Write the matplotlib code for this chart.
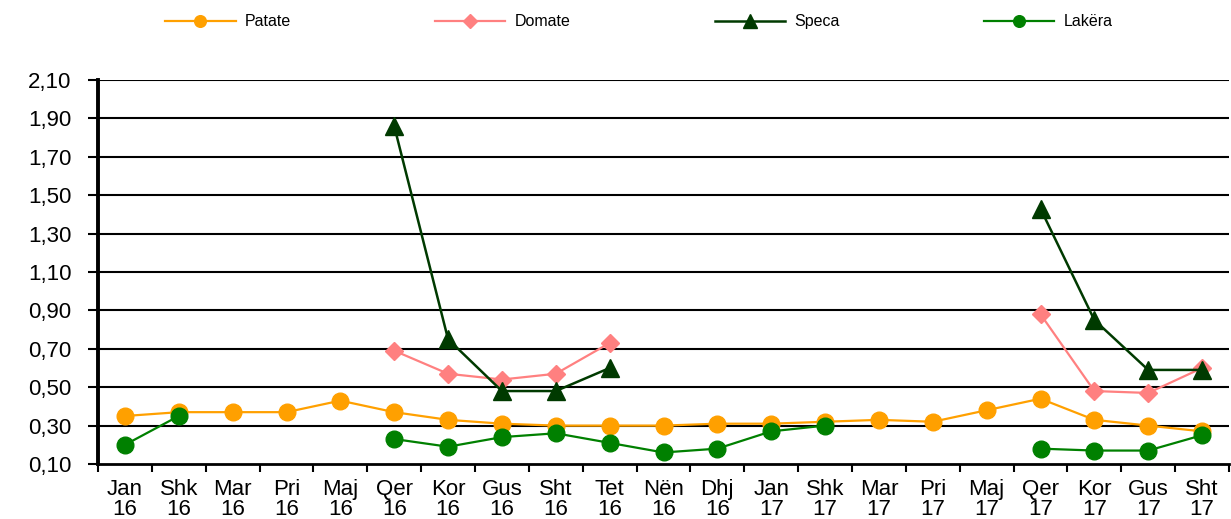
import matplotlib.pyplot as plt
import numpy as np

plt.rcParams['font.family'] = ['Liberation Sans', 'DejaVu Sans']

months = ['Jan\n16', 'Shk\n16', 'Mar\n16', 'Pri\n16', 'Maj\n16', 'Qer\n16', 'Kor\n16',
          'Gus\n16', 'Sht\n16', 'Tet\n16', 'Nën\n16', 'Dhj\n16', 'Jan\n17', 'Shk\n17',
          'Mar\n17', 'Pri\n17', 'Maj\n17', 'Qer\n17', 'Kor\n17', 'Gus\n17', 'Sht\n17']

nan = np.nan
patate = [0.35, 0.37, 0.37, 0.37, 0.43, 0.37, 0.33, 0.31, 0.30, 0.30, 0.30,
          0.31, 0.31, 0.32, 0.33, 0.32, 0.38, 0.44, 0.33, 0.30, 0.27]
domate = [nan, nan, nan, nan, nan, 0.69, 0.57, 0.54, 0.57, 0.73, nan,
          nan, nan, nan, nan, nan, nan, 0.88, 0.48, 0.47, 0.60]
speca = [nan, nan, nan, nan, nan, 1.86, 0.75, 0.48, 0.48, 0.60, nan,
         nan, nan, nan, nan, nan, nan, 1.43, 0.85, 0.59, 0.59]
lakera = [0.20, 0.35, nan, nan, nan, 0.23, 0.19, 0.24, 0.26, 0.21, 0.16,
          0.18, 0.27, 0.30, nan, nan, nan, 0.18, 0.17, 0.17, 0.25]

yticks = [0.10, 0.30, 0.50, 0.70, 0.90, 1.10, 1.30, 1.50, 1.70, 1.90, 2.10]

fig = plt.figure(figsize=(12.31, 5.19), dpi=100)
ax = fig.add_axes([98 / 1231, 1 - 464 / 519, 1131 / 1231, 384 / 519])

x = np.arange(len(months))

# draw the series (missing months stay as gaps)
ax.plot(x, patate, color='#FFA000', lw=1.6, marker='o', ms=12, mec='#FFA000', label='Patate', zorder=3)
ax.plot(x, domate, color='#FF8080', lw=1.6, marker='D', ms=9.5, mec='#FF8080', label='Domate', zorder=4)
ax.plot(x, speca, color='#003A00', lw=1.8, marker='^', ms=13.5, mec='#003A00', label='Speca', zorder=5)
ax.plot(x, lakera, color='#008000', lw=1.6, marker='o', ms=12, mec='#008000', label='Lakëra', zorder=3)

# horizontal gridlines
for yv in yticks[1:]:
    ax.axhline(yv, color='black', lw=1.5, zorder=1)

ax.set_xlim(-0.5, len(months) - 0.5)
ax.set_ylim(0.10, 2.10)
ax.set_yticks(yticks)
ax.set_yticklabels([f'{v:.2f}'.replace('.', ',') for v in yticks], fontsize=16)

# labels at the centres, tick marks between months
ax.set_xticks(x)
ax.set_xticklabels(months, fontsize=16, linespacing=0.95)
ax.set_xticks(np.arange(-0.5, len(months)), minor=True)
ax.tick_params(axis='x', which='major', length=0, pad=11)
ax.tick_params(axis='x', which='minor', length=6, width=1.5, direction='out')
ax.tick_params(axis='y', length=7, width=1.5, direction='out', pad=12)

for side in ['top', 'right']:
    ax.spines[side].set_visible(False)
ax.spines['left'].set_linewidth(2.8)
ax.spines['bottom'].set_linewidth(2.0)

fig.legend(loc='center', bbox_to_anchor=(0.519, 0.958), ncol=4, frameon=False,
           fontsize=11.5, handlelength=4.4, columnspacing=9.0, handletextpad=0.6,
           markerscale=0.7)

plt.savefig('out.png', dpi=100)
